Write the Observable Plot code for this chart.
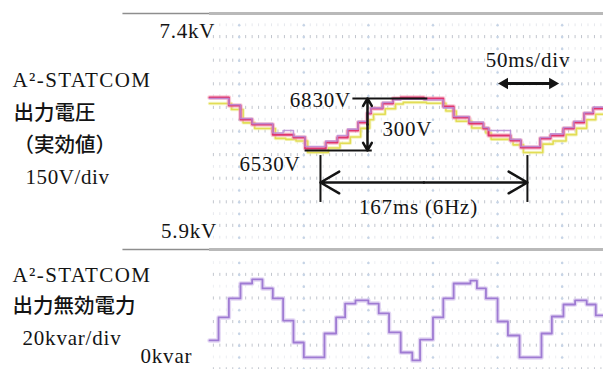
<!DOCTYPE html>
<html>
<head>
<meta charset="utf-8">
<script src="https://cdn.jsdelivr.net/npm/d3@7"></script>
<script src="https://cdn.jsdelivr.net/npm/@observablehq/plot@0.6"></script>
<style>
  body { margin: 0; background: #fff; }
  #wrap { position: relative; width: 603px; height: 369px; overflow: hidden; background: #fff; }
  #wrap svg { position: absolute; left: 0; }
</style>
</head>
<body>
<div id="wrap"></div>
<script>
// ---- time axis (ms), 50 ms/div ----
const divTimes = [0, 50, 100, 150, 200, 250];
const minorTimes = [-20,-15,-10,-5,0,5,10,15,20,25,30,35,40,45,50,55,60,65,70,75,80,85,90,95,100,105,110,115,120,125,130,135,140,145,150,155,160,165,170,175,180,185,190,195,200,205,210,215,220,225,230,235,240,245,250,255,260,265,270,275,280];

// ---- upper panel: output voltage (rms), 150 V/div, 5.9 kV .. 7.4 kV ----
const vRows = [7250, 7100, 6950, 6800, 6650, 6500, 6350, 6200, 6050];
const vHalfRows = [7325, 7175, 7025, 6875, 6725, 6575, 6425, 6275, 6125, 5975];
const vTimes   = [-23, -8, 1, 10, 26, 34, 42, 51, 67, 76, 84, 92, 99, 102, 111, 119, 125, 143, 158, 166, 178, 189, 193, 210, 218, 233, 241, 251, 259, 267, 274, 282];
const vMagenta = [6866, 6815, 6726, 6694, 6630, 6630, 6612, 6542, 6580, 6612, 6656, 6707, 6764, 6796, 6828, 6860, 6866, 6860, 6809, 6739, 6701, 6669, 6625, 6593, 6548, 6606, 6625, 6669, 6707, 6764, 6796, 6796];
const vPurple  = [6860, 6820, 6733, 6700, 6640, 6656, 6618, 6555, 6590, 6625, 6665, 6715, 6770, 6800, 6835, 6850, 6855, 6850, 6800, 6745, 6710, 6675, 6656, 6600, 6555, 6612, 6635, 6675, 6715, 6770, 6805, 6805];
const yTimes   = [-23, -6, 3, 12, 28, 36, 44, 53, 69, 78, 86, 94, 101, 104, 113, 121, 127, 145, 160, 168, 180, 191, 195, 212, 220, 235, 243, 253, 261, 269, 276, 282];
const vYellow  = [6828, 6790, 6705, 6669, 6606, 6600, 6590, 6517, 6545, 6575, 6615, 6670, 6725, 6760, 6795, 6825, 6835, 6830, 6780, 6715, 6672, 6640, 6600, 6565, 6517, 6570, 6590, 6630, 6670, 6725, 6760, 6760];

// ---- lower panel: output reactive power, 20 kvar/div ----
const qRows = [70, 50, 30, 10, -10];
const qHalfRows = [80, 60, 40, 20, 0];
const qTimes  = [-23, -16, -8, 1, 10, 18, 26, 34, 42, 50, 66, 75, 82, 90, 100, 108, 116, 125, 134, 140, 150, 158, 166, 179, 184, 191, 200, 208, 217, 234, 242, 251, 260, 269, 276, 282];
const qValues = [14.4, 33.9, 50, 62.7, 66.1, 58.5, 50, 31.3, 12.7, 0, 20.3, 33.9, 45.7, 48.3, 45.7, 37.3, 21.2, 4.2, -2.5, 15.2, 33.9, 50, 62.7, 65.2, 58.5, 50, 30.5, 18.6, 0, 20.3, 34.7, 44.9, 48.3, 44.9, 35.6, 35.6];

// ---- labels ----
const vTop = 7400, vBottom = 5900;
const topLabels = [
  {v: 6974, text: "A²-STATCOM", dx: -197, font: "serif", ls: 1.4},
  {v: 6764, text: "出力電圧", dx: -196, font: "cjk"},
  {v: 6561, text: "（実効値）", dx: -196, font: "cjk"},
  {v: 6358, text: "150V/div", dx: -184, font: "serif", ls: 0.6}
];
const botLabels = [
  {q: 69.5, text: "A²-STATCOM", dx: -197, font: "serif", ls: 1.4},
  {q: 43.2, text: "出力無効電力", dx: -197, font: "cjk"},
  {q: 16.1, text: "20kvar/div", dx: -187, font: "serif", ls: 0.8},
  {q: 0.9, text: "0kvar", dx: -69, font: "serif", ls: 0.8}
];
const endNotes = [
  {t: 86.5, v: 6846, s: "6830V"},
  {t: 47.5, v: 6440, s: "6530V"},
  {t: -18.5, v: 7286, s: "7.4kV"},
  {t: -17.2, v: 6014, s: "5.9kV"}
];
const startNotes = [
  {t: 110.9, v: 6663, s: "300V"}
];
const midNotes = [
  {t: 138.8, v: 6167, s: "167ms (6Hz)"},
  {t: 223.5, v: 7101, s: "50ms/div"}
];

const SERIF = "'Liberation Serif', 'DejaVu Serif', serif";
const SERIF_SIZE = 21;
const CJK = "'Noto Sans CJK JP', 'Noto Sans CJK SC', sans-serif";
const INK = "#141414";

const table = (ts, vs) => ts.map((t, i) => ({t, v: vs[i]}));
const gridPts = (rows) => rows.flatMap(r => minorTimes.map(t => ({t, r})));
const colPts = (rows) => rows.flatMap(r => divTimes.map(t => ({t, r})));

const magenta = table(vTimes, vMagenta);
const purple = table(vTimes, vPurple);
const yellow = table(yTimes, vYellow);
const q = table(qTimes, qValues);

const xScale = {domain: [-23, 282], axis: null};

function labelMarks(list, key) {
  return [
    Plot.text(list.filter(d => d.font === "serif"), {y: key, text: "text", frameAnchor: "left", textAnchor: "start", fontFamily: SERIF, fontSize: SERIF_SIZE, fill: INK}),
    Plot.text(list.filter(d => d.font === "cjk"), {y: key, text: "text", frameAnchor: "left", textAnchor: "start", fontFamily: CJK, fontSize: 20.5, fontWeight: 500, fill: INK})
  ];
}
const noteOpts = (anchor) => ({x: "t", y: "v", text: "s", textAnchor: anchor, fontFamily: SERIF, fontSize: SERIF_SIZE, fill: INK});

// ---- upper plot ----
const upper = Plot.plot({
  width: 603, height: 252,
  marginLeft: 209, marginRight: 0, marginTop: 13, marginBottom: 3,
  x: xScale,
  y: {domain: [vBottom, vTop], axis: null},
  style: {background: "transparent", overflow: "visible"},
  marks: [
    Plot.ruleX(gridPts(vHalfRows), {x: "t", y1: d => d.r - 9, y2: d => d.r + 9, stroke: "#e6e8ed", strokeWidth: 1}),
    Plot.ruleX(gridPts(vRows), {x: "t", y1: d => d.r - 10, y2: d => d.r + 10, stroke: "#c2c6ce", strokeWidth: 1}),
    Plot.dot(colPts(vRows.concat(vHalfRows)), {x: "t", y: "r", r: 1.3, fill: "#c6d4e6", stroke: null}),
    Plot.ruleY([vTop, vBottom], {x1: () => -90, x2: () => -23, stroke: "#8e8e8e", strokeWidth: 1.3}),
    Plot.ruleY([vTop, vBottom], {x1: () => -23, x2: () => 282, stroke: "#b9b9b9", strokeWidth: 3}),
    // traces (soft halo + core)
    Plot.line(yellow, {x: "t", y: "v", curve: "step-after", stroke: "#f0ed9f", strokeWidth: 3.5, strokeOpacity: 0.6}),
    Plot.line(yellow, {x: "t", y: "v", curve: "step-after", stroke: "#e2dd55", strokeWidth: 1.6}),
    Plot.line(magenta, {x: "t", y: "v", curve: "step-after", stroke: "#f3a3b8", strokeWidth: 4.5, strokeOpacity: 0.6}),
    Plot.line(magenta, {x: "t", y: "v", curve: "step-after", stroke: "#e0356f", strokeWidth: 2}),
    Plot.line(purple, {x: "t", y: "v", curve: "step-after", stroke: "#b88ad6", strokeWidth: 1.6, strokeOpacity: 0.85}),
    // 6830 / 6530 reference lines and 300V arrow
    Plot.ruleY([{v: 6860, t1: 88, t2: 146}, {v: 6530, t1: 51, t2: 103}], {y: "v", x1: "t1", x2: "t2", stroke: INK, strokeWidth: 2}),
    Plot.arrow([{t: 99.3, a: 6695, b: 6860}, {t: 99.3, a: 6695, b: 6530}], {x1: "t", x2: "t", y1: "a", y2: "b", stroke: INK, strokeWidth: 2.5, headLength: 13}),
    // 167ms span
    Plot.ruleX([62.9, 223.1], {y1: () => 6497, y2: () => 6199, stroke: INK, strokeWidth: 2}),
    Plot.arrow([{a: 143, b: 62.9}, {a: 143, b: 223.1}], {x1: "a", x2: "b", y1: () => 6326, y2: () => 6326, stroke: INK, strokeWidth: 2.5, headLength: 13}),
    // 50ms/div arrow
    Plot.ruleY([6955], {x1: () => 206, x2: () => 242, stroke: INK, strokeWidth: 3}),
    Plot.dot([{t: 205.5, r: -90}, {t: 242.5, r: 90}], {x: "t", y: () => 6955, rotate: "r", symbol: "triangle2", r: 5.5, fill: INK, stroke: null}),
    // annotation texts
    Plot.text(endNotes, noteOpts("end")),
    Plot.text(startNotes, noteOpts("start")),
    Plot.text(midNotes, noteOpts("middle")),
    ...labelMarks(topLabels, "v")
  ]
});

// ---- lower plot ----
const lower = Plot.plot({
  width: 603, height: 120,
  marginLeft: 209, marginRight: 0, marginTop: 0, marginBottom: 0,
  x: xScale,
  y: {domain: [-10.2, 91.5], axis: null},
  style: {background: "transparent", overflow: "visible"},
  marks: [
    Plot.ruleX(gridPts(qHalfRows), {x: "t", y1: d => d.r - 1.2, y2: d => d.r + 1.2, stroke: "#eceef2", strokeWidth: 1}),
    Plot.ruleX(gridPts(qRows), {x: "t", y1: d => d.r - 1.3, y2: d => d.r + 1.3, stroke: "#c2c6ce", strokeWidth: 1}),
    Plot.dot(colPts(qRows.concat(qHalfRows)), {x: "t", y: "r", r: 1.3, fill: "#c6d4e6", stroke: null}),
    Plot.line(q, {x: "t", y: "v", curve: "step-after", stroke: "#dccdf0", strokeWidth: 4.5, strokeOpacity: 0.8}),
    Plot.line(q, {x: "t", y: "v", curve: "step-after", stroke: "#9f7bd3", strokeWidth: 1.8}),
    ...labelMarks(botLabels, "q")
  ]
});

const wrap = document.getElementById("wrap");
lower.style.top = "249px";
upper.style.top = "0px";
wrap.appendChild(lower);
wrap.appendChild(upper);

// fonts set on each text (serif for Latin labels, Gothic for Japanese), and
// left labels shifted from the frame's left edge into the margin
const cjkRe = /[\u3000-\u9fff\uff00-\uffef]/;
for (const [svg, list] of [[upper, topLabels], [lower, botLabels]]) {
  for (const el of svg.querySelectorAll("text")) {
    const d = list.find(d => d.text === el.textContent);
    if (cjkRe.test(el.textContent)) {
      el.setAttribute("font-family", "Noto Sans CJK JP");
      el.style.fontFamily = CJK;
      el.style.fontSize = "20.5px";
      el.style.fontWeight = "500";
    } else {
      el.setAttribute("font-family", "Liberation Serif");
      el.style.fontFamily = SERIF;
      el.style.fontSize = SERIF_SIZE + "px";
      el.style.letterSpacing = ((d && d.ls) || 0.8) + "px";
    }
    if (d) {
      const cur = el.getAttribute("transform") || "";
      el.setAttribute("transform", cur + ` translate(${d.dx},0)`);
    }
  }
}
</script>
</body>
</html>
